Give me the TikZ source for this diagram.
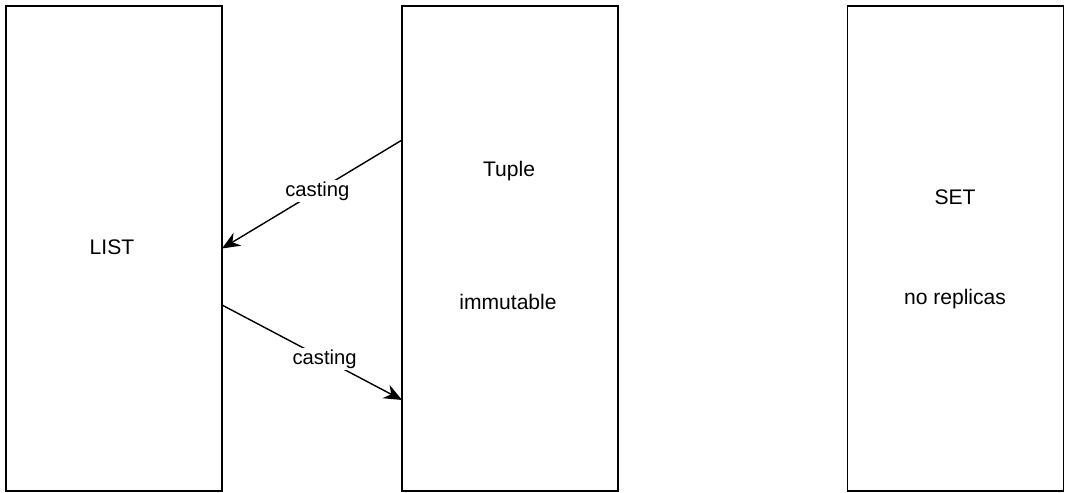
\documentclass[tikz,border=0pt]{standalone}
\usepackage{fontspec}
\setmainfont{Liberation Sans}
\usetikzlibrary{arrows.meta}
\tikzset{
  typebox/.style={draw,line width=1.1pt,minimum width=4.32cm,minimum height=9.7cm,inner sep=0pt,outer sep=0pt},
  castarrow/.style={draw,line width=0.8pt,-{Stealth[length=0.36cm,width=0.3cm]}},
  castlabel/.style={fill=white,inner sep=1pt,font=\fontsize{11.5}{13}\selectfont}
}
\begin{document}
\begin{tikzpicture}[x=0.02cm,y=-0.02cm,font=\fontsize{12}{14}\selectfont]
  \useasboundingbox (0,0) rectangle (1065,493);
  \node [typebox] (list)  at (114,248.5) {};
  \node [typebox] (tuple) at (510,248.5) {};
  \node [typebox] (set)   at (955.5,248.5) {};

  \node (listname)  at (112,247) {LIST};
  \node (tuplename) at (509,171) {Tuple};
  \node (tuplenote) at (508,302) {immutable};
  \node (setname)   at (955,197) {SET};
  \node (setnote)   at (955,299) {no replicas};

  \draw [castarrow] ([yshift=2.17cm]tuple.west) -- (list.east)
    node [castlabel,pos=0.47] {casting};
  \draw [castarrow] ([yshift=-1.13cm]list.east) -- ([yshift=-3.03cm]tuple.west)
    node [castlabel,pos=0.57] {casting};
\end{tikzpicture}
\end{document}
